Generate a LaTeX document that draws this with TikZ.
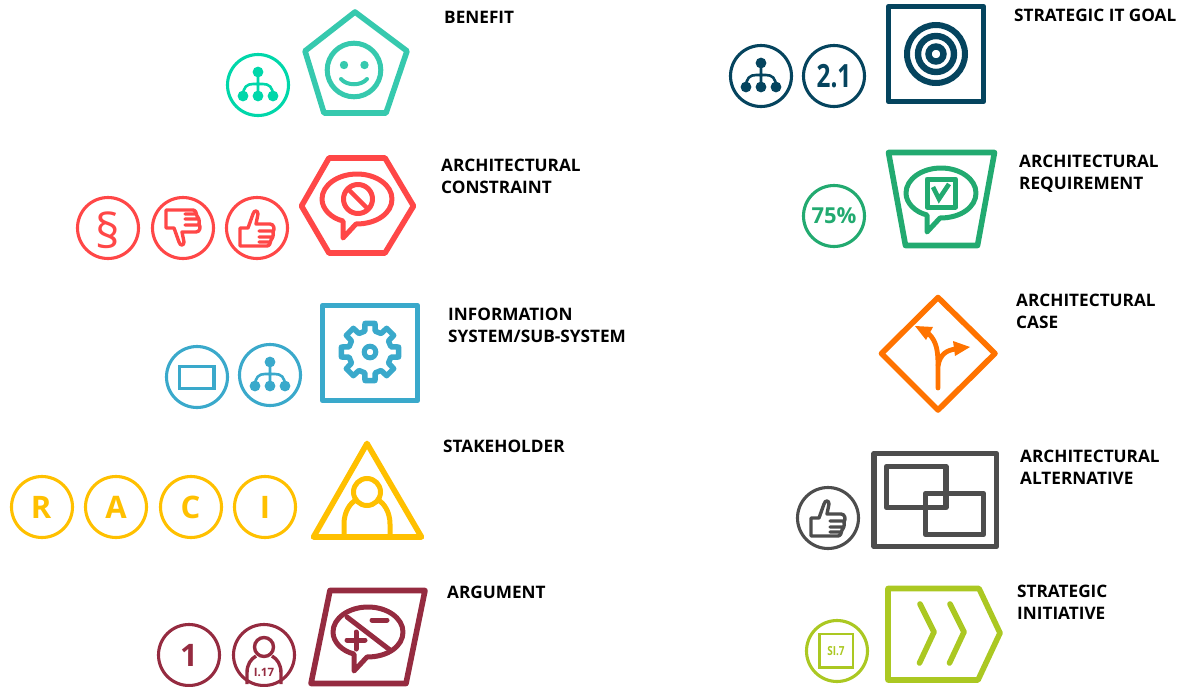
\documentclass[tikz,border=0pt]{standalone}
\usepackage{fontspec}
\usepackage{graphicx}
\setmainfont{Open Sans}
\definecolor{cTeal}{HTML}{36C9AE}
\definecolor{cMint}{HTML}{00D7AA}
\definecolor{cRed}{HTML}{FF4747}
\definecolor{cBlue}{HTML}{3AA9CB}
\definecolor{cYellow}{HTML}{FFC000}
\definecolor{cMaroon}{HTML}{952B40}
\definecolor{cNavy}{HTML}{05445E}
\definecolor{cGreen}{HTML}{22AA70}
\definecolor{cOrange}{HTML}{FF7300}
\definecolor{cGray}{HTML}{4D4D4D}
\definecolor{cLime}{HTML}{ABC822}
\tikzset{
  x=1pt,y=-1pt,
  frameline/.style={line width=5.6pt,line join=round,line cap=round},
  iconline/.style={line width=5pt,line join=round,line cap=round},
  ringline/.style={line width=3.1pt},
  lab/.style={font=\bfseries\fontsize{17.2}{22}\selectfont,align=left,anchor=base west,inner sep=0pt,text=black},
  badge/.style={font=\bfseries\fontsize{31}{31}\selectfont,inner sep=0pt},
  ring/.pic={\draw[ringline,pic actions] (0,0) circle (30.5);},
  org/.pic={
    \draw[line width=2.6pt,pic actions] (0,-13)--(0,11) (-15,11) .. controls (-15,2) and (-11,-1) .. (-5,-1) -- (5,-1) .. controls (11,-1) and (15,2) .. (15,11);
    \fill[pic actions] (0,-13) circle (5.4) (-15,11) circle (5.4) (0,11) circle (5.4) (15,11) circle (5.4);
  },
  thumb/.pic={
    \draw[line width=3.4pt,line join=round,line cap=round,pic actions]
      (-17,0) -- (-9,0) -- (-4,-14) .. controls (-3,-18) and (1,-18) .. (1,-14) -- (-1,-4) -- (13,-4) .. controls (17,-4) and (18,1) .. (16,4) .. controls (17,8) and (15,11) .. (14,12) .. controls (14,15) and (12,18) .. (10,18) -- (-17,18) -- cycle
      (2,3) -- (16,3) (2,9) -- (14,9) (2,14) -- (12,14);
  },
  bubble/.pic={
    \draw[iconline,pic actions] (-14,22) -- (-14,39) -- (-1,25) .. controls (20,25) and (35,14) .. (35,0) .. controls (35,-14) and (19,-25) .. (0,-25) .. controls (-19,-25) and (-35,-14) .. (-35,0) .. controls (-35,10) and (-26,19) .. (-14,22) -- cycle;
  }
}
\begin{document}
\begin{tikzpicture}
\useasboundingbox (0,0) rectangle (1187,686);
\begin{scope}
\clip (0,0) rectangle (1187,686);

% ---------- benefit
\begin{scope}[color=cTeal]
\draw[frameline] (355,12) -- (407,51) -- (386,113) -- (324,113) -- (305,51) -- cycle;
\draw[iconline] (354,70) circle (26.8);
\fill (344,65) circle (4.2) (364.5,65) circle (4.2);
\draw[line width=4pt,line cap=round] (341,79) .. controls (347,86) and (361,86) .. (367,79);
\end{scope}
\pic[color=cMint] at (258,85) {ring};
\pic[color=cMint] at (258,85) {org};

% ---------- constraint
\begin{scope}[color=cRed]
\draw[frameline] (301.5,206) -- (329,158) -- (385,158) -- (413.5,206) -- (385,253) -- (329,253) -- cycle;
\pic at (357,199) {bubble};
\draw[iconline] (358,199) circle (14.5);
\draw[line width=4.5pt] (348,189) -- (368,209);
\end{scope}
\pic[color=cRed] at (108,228) {ring};
\pic[color=cRed] at (183,228) {ring};
\pic[color=cRed] at (257,228) {ring};
\node[text=cRed,font=\fontsize{48}{48}\selectfont,inner sep=0pt] (sect) at (108,230) {§};
\pic[color=cRed,yscale=-1] at (183,228) {thumb};
\pic[color=cRed] at (257,228) {thumb};

% ---------- information system
\begin{scope}[color=cBlue]
\draw[frameline] (322.5,305.5) rectangle (417.5,400.5);
\draw[line width=5.4pt,line join=round]
  ({370+21.5*cos(-15)},{352+21.5*sin(-15)})
  \foreach \a in {0,45,...,315} {
    -- ({370+21.5*cos(\a-14)},{352+21.5*sin(\a-14)})
    -- ({370+29*cos(\a-10)},{352+29*sin(\a-10)})
    -- ({370+29*cos(\a+10)},{352+29*sin(\a+10)})
    -- ({370+21.5*cos(\a+14)},{352+21.5*sin(\a+14)})
  } -- cycle;
\draw[line width=5pt] (370,352) circle (5.8);
\end{scope}
\pic[color=cBlue] at (197,377) {ring};
\draw[cBlue,line width=3.2pt] (179.5,366.5) rectangle (214,388.5);
\pic[color=cBlue] at (270,375) {ring};
\pic[color=cBlue] at (270,375) {org};

% ---------- stakeholder
\begin{scope}[color=cYellow]
\draw[frameline] (367,443.5) -- (421.5,537) -- (313.5,537) -- cycle;
\draw[line width=5pt] (367,492) circle (13.5);
\draw[line width=5pt] (344,537) -- (344,524) .. controls (344,512) and (350,503) .. (356,500);
\draw[line width=5pt] (390,537) -- (390,524) .. controls (390,512) and (384,503) .. (378,500);
\end{scope}
\foreach \px/\tx/\t/\n in {42/41/R/r,116/116/A/a,191/190.5/C/c,265/265/I/i} {
  \pic[color=cYellow] at (\px,507) {ring};
  \node[badge,text=cYellow] (raci\n) at (\tx,507) {\t};
}

% ---------- argument
\begin{scope}[color=cMaroon]
\draw[frameline] (330,590.5) -- (425,590.5) -- (406,683.5) -- (311,683.5) -- cycle;
\pic at (368,632) {bubble};
\draw[iconline] (347,617) -- (390,650);
\draw[iconline] (372,620) -- (387,620);
\draw[iconline] (356,632) -- (356,649) (347,640) -- (365,640);
\end{scope}
\pic[color=cMaroon] at (189,655) {ring};
\node[badge,text=cMaroon] (argone) at (189,655) {1};
\pic[color=cMaroon] at (264,655) {ring};
\draw[cMaroon,line width=3.4pt] (264,647) circle (9.5);
\draw[cMaroon,line width=3.4pt] (247,684) -- (247,673) .. controls (247,664) and (251,659) .. (256,656);
\draw[cMaroon,line width=3.4pt] (281,684) -- (281,673) .. controls (281,664) and (277,659) .. (272,656);
\node[text=cMaroon,font=\bfseries\fontsize{11.5}{11.5}\selectfont,inner sep=0pt] (argi) at (264,672) {I.17};

% ---------- strategic IT goal
\begin{scope}[color=cNavy]
\draw[frameline] (888.5,6.5) rectangle (983.5,101.5);
\draw[line width=6pt] (936,54) circle (29);
\draw[line width=6.4pt] (936,54) circle (18);
\draw[line width=6.4pt] (936,54) circle (7.5);
\end{scope}
\pic[color=cNavy] at (761,76) {ring};
\pic[color=cNavy] at (761,76) {org};
\pic[color=cNavy] at (834,76) {ring};
\node[badge,text=cNavy,font=\bfseries\fontsize{32}{32}\selectfont] (goalnum) at (834,76) {\scalebox{0.76}[1]{2.1}};

% ---------- requirement
\begin{scope}[color=cGreen]
\draw[frameline] (888.5,152.5) -- (994.5,152.5) -- (977.5,245.5) -- (905.5,245.5) -- cycle;
\pic at (941,193) {bubble};
\draw[iconline] (927,179) rectangle (955.5,207);
\draw[line width=4.6pt,line join=miter] (933,187) -- (939,199) -- (949,184);
\end{scope}
\pic[color=cGreen] at (834,216) {ring};
\node[badge,text=cGreen,font=\bfseries\fontsize{22}{22}\selectfont] (reqpct) at (834,216) {75\%};

% ---------- case
\begin{scope}[color=cOrange]
\draw[frameline] (938,297.5) -- (995,353.5) -- (938,410) -- (881.5,353.5) -- cycle;
\draw[line width=4.8pt,line cap=round] (938,388) -- (938,366) .. controls (938,352) and (937,342) .. (929,334);
\draw[line width=4.8pt] (938,366) .. controls (940,354) and (947,350) .. (956,349);
\fill (915,326) -- (933,327) -- (926,340) -- cycle;
\fill (970,347) -- (953,341) -- (955,356) -- cycle;
\end{scope}

% ---------- alternative
\begin{scope}[color=cGray]
\draw[frameline] (874,453.5) rectangle (996.5,546.5);
\draw[frameline] (886.5,466.5) rectangle (946,507.5);
\draw[frameline] (925.5,493.5) rectangle (983.5,534.5);
\end{scope}
\pic[color=cGray] at (828,518) {ring};
\pic[color=cGray] at (828,518) {thumb};

% ---------- initiative
\begin{scope}[color=cLime]
\draw[frameline] (888,588.5) -- (979,588.5) -- (1000,633) -- (978,680) -- (888,680) -- cycle;
\draw[frameline] (920,604) -- (934,632) -- (919.5,663);
\draw[frameline] (950,604) -- (964,632) -- (949.5,663);
\end{scope}
\pic[color=cLime] at (837,651) {ring};
\draw[cLime,line width=2.2pt] (819.5,634) rectangle (853,667.5);
\node[text=cLime,font=\bfseries\fontsize{12.5}{12.5}\selectfont,inner sep=0pt] (initnum) at (836,651) {\scalebox{0.8}[1]{SI.7}};

% ---------- labels
\node[lab] (l1) at (444,23) {BENEFIT};
\node[lab] (l2) at (441,193) {ARCHITECTURAL\\CONSTRAINT};
\node[lab] (l3) at (448,342) {INFORMATION\\SYSTEM/SUB-SYSTEM};
\node[lab] (l4) at (443,452.5) {STAKEHOLDER};
\node[lab] (l5) at (447,598.5) {ARGUMENT};
\node[lab] (l6) at (1014,21.5) {STRATEGIC IT GOAL};
\node[lab] (l7) at (1019,189.5) {ARCHITECTURAL\\REQUIREMENT};
\node[lab] (l8) at (1016,328.5) {ARCHITECTURAL\\CASE};
\node[lab] (l9) at (1020,484.5) {ARCHITECTURAL\\ALTERNATIVE};
\node[lab] (l10) at (1017,619.5) {STRATEGIC\\INITIATIVE};
\end{scope}
\end{tikzpicture}
\end{document}
